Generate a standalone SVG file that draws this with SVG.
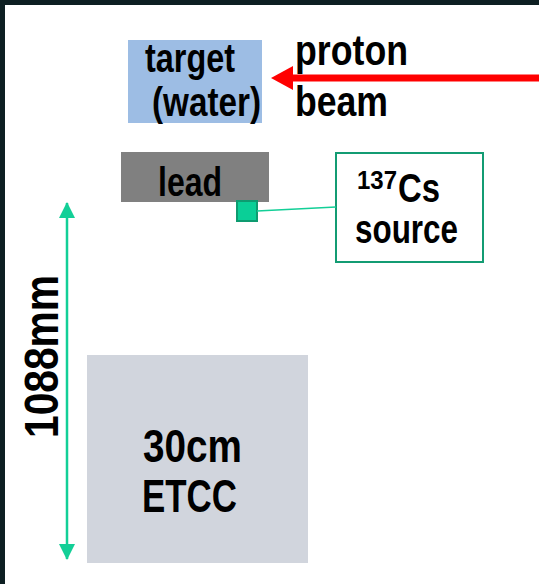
<svg xmlns="http://www.w3.org/2000/svg" width="539" height="584" viewBox="0 0 539 584">
<style>
.t{font-family:"Liberation Sans",Arial,sans-serif;font-weight:bold;fill:#000;}
</style>
<defs>
<marker id="ga" viewBox="0 0 16 16" refX="15" refY="8" markerWidth="16" markerHeight="16" markerUnits="userSpaceOnUse" orient="auto-start-reverse">
<path d="M0,0 L16,8 L0,16 Z" fill="#13cf97"/>
</marker>
</defs>
<rect x="0" y="0" width="539" height="584" fill="#0d1f22"/>
<rect x="5" y="5" width="534" height="579" fill="#ffffff"/>
<g id="target">
<rect x="128" y="40" width="134" height="83" fill="#9dbde4"/>
<text class="t" x="145" y="72" font-size="40" textLength="90" lengthAdjust="spacingAndGlyphs">target</text>
<text class="t" x="152" y="116" font-size="40" textLength="109" lengthAdjust="spacingAndGlyphs">(water)</text>
</g>
<g id="beam">
<text class="t" x="295" y="65" font-size="42" textLength="113" lengthAdjust="spacingAndGlyphs">proton</text>
<text class="t" x="295" y="116" font-size="42" textLength="93" lengthAdjust="spacingAndGlyphs">beam</text>
</g>
<g id="lead">
<rect x="121" y="152" width="148" height="50" fill="#808080"/>
<text class="t" x="158" y="196" font-size="40" textLength="64" lengthAdjust="spacingAndGlyphs">lead</text>
</g>
<g id="cs-point">
<rect x="237" y="201" width="20" height="20" fill="#0acf97" stroke="#0e9b70" stroke-width="2"/>
</g>
<g id="cs-source">
<rect x="336" y="153" width="147" height="109" fill="#ffffff" stroke="#139c73" stroke-width="2"/>
<text class="t" x="357" y="189" font-size="25" textLength="40" lengthAdjust="spacingAndGlyphs">137</text>
<text class="t" x="398" y="202" font-size="40" textLength="42" lengthAdjust="spacingAndGlyphs">Cs</text>
<text class="t" x="355" y="243" font-size="40" textLength="103" lengthAdjust="spacingAndGlyphs">source</text>
</g>
<g id="etcc">
<rect x="87" y="355" width="221" height="208" fill="#d1d5dd"/>
<text class="t" x="143" y="462" font-size="47" textLength="99" lengthAdjust="spacingAndGlyphs">30cm</text>
<text class="t" x="142" y="512" font-size="47" textLength="95" lengthAdjust="spacingAndGlyphs">ETCC</text>
</g>
<g id="dimension-label">
<text class="t" transform="translate(58,438) rotate(-90)" x="0" y="0" font-size="49" textLength="163" lengthAdjust="spacingAndGlyphs">1088mm</text>
</g>
<g id="connectors">
<line x1="539" y1="78" x2="290" y2="78" stroke="#ff0000" stroke-width="7"/>
<polygon points="271,78 293,66 293,90" fill="#ff0000"/>
<line x1="257" y1="211" x2="336" y2="207" stroke="#13cf97" stroke-width="1.5"/>
<line x1="67" y1="203" x2="67" y2="559" stroke="#13cf97" stroke-width="2.5" marker-start="url(#ga)" marker-end="url(#ga)"/>
</g>
</svg>
